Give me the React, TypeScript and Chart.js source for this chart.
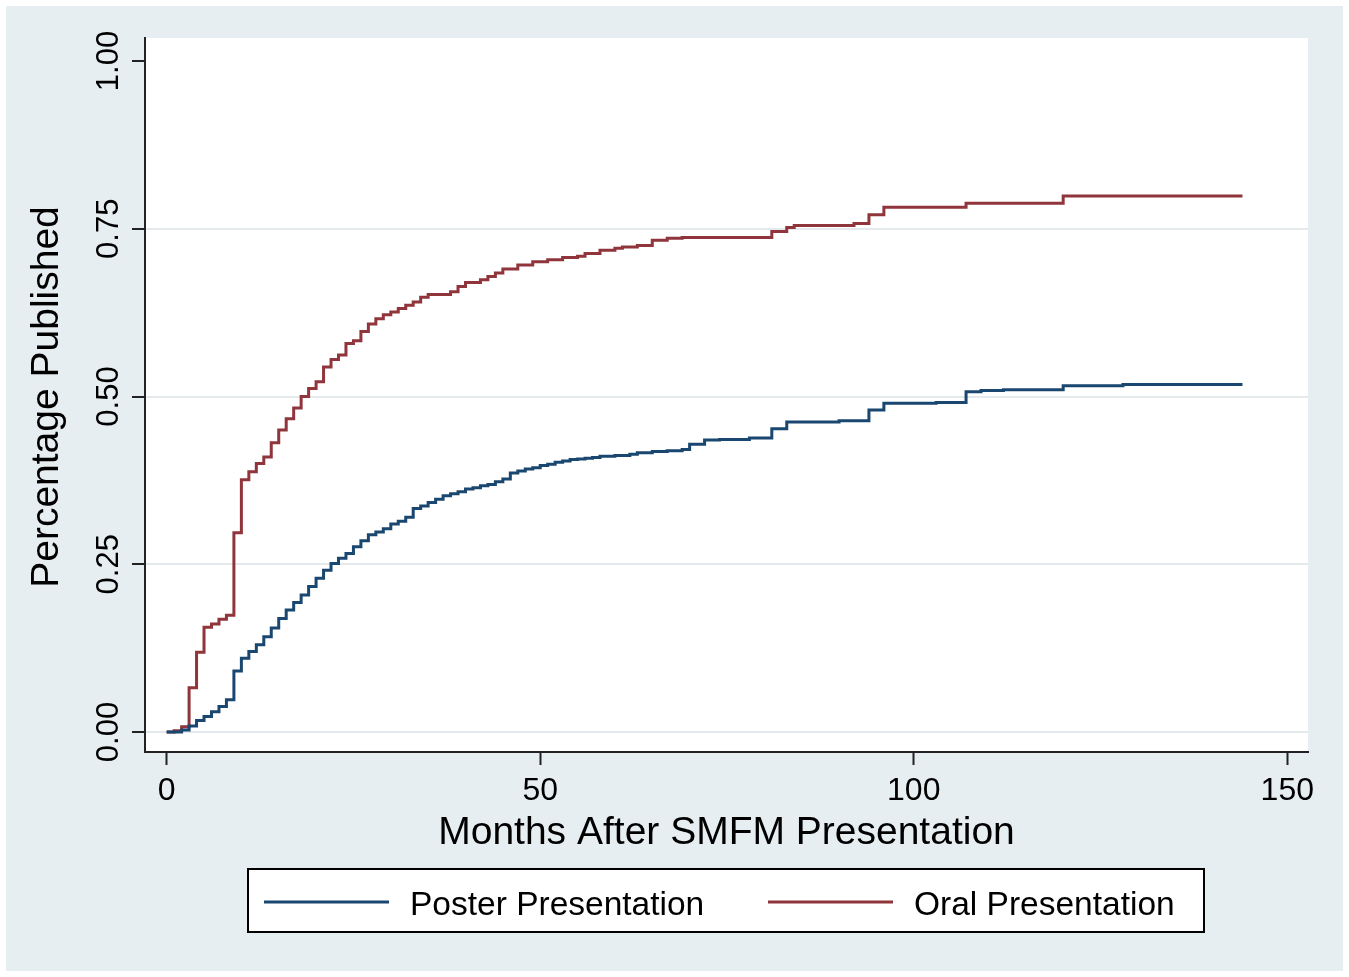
import React, { useEffect, useRef } from 'react';
import { Chart, registerables } from 'chart.js';

Chart.register(...registerables);

// ---- Data ----
const posterMonths = [0, 2, 3, 4, 5, 6, 7, 8, 9, 10, 11, 12, 13, 14, 15, 16, 17, 18, 19, 20, 21, 22, 23, 24, 25, 26, 27, 28, 29, 30, 31, 32, 33, 34, 35, 36, 37, 38, 39, 40, 41, 42, 43, 44, 45, 46, 47, 48, 49, 50, 51, 52, 53, 54, 55, 56, 57, 58, 60, 62, 63, 65, 67, 69, 70, 72, 74, 78, 81, 83, 90, 94, 96, 103, 107, 109, 112, 120, 128, 144];
const posterValues = [0, 0.003, 0.009, 0.017, 0.023, 0.030, 0.038, 0.048, 0.091, 0.110, 0.120, 0.130, 0.142, 0.155, 0.169, 0.182, 0.193, 0.204, 0.217, 0.229, 0.241, 0.251, 0.259, 0.266, 0.276, 0.285, 0.294, 0.298, 0.303, 0.310, 0.314, 0.320, 0.333, 0.337, 0.342, 0.347, 0.352, 0.355, 0.358, 0.362, 0.364, 0.367, 0.369, 0.373, 0.377, 0.386, 0.389, 0.392, 0.394, 0.397, 0.399, 0.402, 0.404, 0.406, 0.407, 0.408, 0.409, 0.411, 0.412, 0.414, 0.416, 0.418, 0.419, 0.421, 0.429, 0.435, 0.436, 0.438, 0.452, 0.462, 0.464, 0.480, 0.490, 0.491, 0.507, 0.509, 0.510, 0.516, 0.518, 0.518];

const oralMonths = [0, 1, 2, 3, 4, 5, 6, 7, 8, 9, 10, 11, 12, 13, 14, 15, 16, 17, 18, 19, 20, 21, 22, 23, 24, 25, 26, 27, 28, 29, 30, 31, 32, 33, 34, 35, 38, 39, 40, 42, 43, 44, 45, 47, 49, 51, 53, 55, 56, 58, 60, 61, 63, 65, 67, 69, 81, 83, 84, 92, 94, 96, 107, 120, 144];
const oralValues = [0, 0.002, 0.008, 0.066, 0.119, 0.156, 0.161, 0.168, 0.174, 0.297, 0.376, 0.388, 0.400, 0.410, 0.431, 0.450, 0.467, 0.483, 0.500, 0.512, 0.522, 0.544, 0.555, 0.562, 0.579, 0.583, 0.597, 0.608, 0.616, 0.622, 0.626, 0.631, 0.636, 0.641, 0.648, 0.652, 0.656, 0.664, 0.670, 0.674, 0.679, 0.684, 0.690, 0.696, 0.701, 0.704, 0.707, 0.709, 0.713, 0.718, 0.721, 0.723, 0.725, 0.733, 0.736, 0.737, 0.746, 0.752, 0.755, 0.758, 0.771, 0.782, 0.788, 0.799, 0.799];

const seriesLabels = ['Poster Presentation', 'Oral Presentation'];
const seriesColors = ['#1a476f', '#90353b'];
const xTicks = [0, 50, 100, 150];
const yTicks = [0, 0.25, 0.5, 0.75, 1];
const yTickLabels = ['0.00', '0.25', '0.50', '0.75', '1.00'];
const xTitle = 'Months After SMFM Presentation';
const yTitle = 'Percentage Published';

const FONT = '"Liberation Sans", Arial, Helvetica, sans-serif';
const W = 1349;
const H = 977;

const bgPlugin = {
  id: 'stataBg',
  beforeDraw(chart: any) {
    const { ctx, chartArea: a } = chart;
    ctx.save();
    ctx.fillStyle = '#ffffff';
    ctx.fillRect(0, 0, W, H);
    ctx.fillStyle = '#e7eef2';
    ctx.fillRect(6, 6, W - 12, H - 12);
    ctx.fillStyle = '#ffffff';
    ctx.fillRect(a.left, a.top, a.right - a.left, a.bottom - a.top);
    ctx.restore();
  },
};

const textPlugin = {
  id: 'stataText',
  afterDraw(chart: any) {
    const { ctx, chartArea: a } = chart;
    const ys = chart.scales.y;
    ctx.save();
    ctx.fillStyle = '#000000';
    ctx.textAlign = 'center';
    ctx.textBaseline = 'alphabetic';

    // rotated y tick labels
    ctx.font = `31px ${FONT}`;
    yTicks.forEach((v, i) => {
      const py = ys.getPixelForValue(v);
      ctx.save();
      ctx.translate(a.left - 27, py);
      ctx.rotate(-Math.PI / 2);
      ctx.fillText(yTickLabels[i], 0, 0);
      ctx.restore();
    });

    // y title
    ctx.font = `39px ${FONT}`;
    ctx.save();
    ctx.translate(58, (a.top + a.bottom) / 2 + 2);
    ctx.rotate(-Math.PI / 2);
    ctx.fillText(yTitle, 0, 0);
    ctx.restore();

    // x title
    ctx.fillText(xTitle, (a.left + a.right) / 2, 844);

    // legend
    const lx = 248, ly = 869, lw = 956, lh = 63;
    ctx.fillStyle = '#ffffff';
    ctx.fillRect(lx, ly, lw, lh);
    ctx.strokeStyle = '#000000';
    ctx.lineWidth = 2;
    ctx.strokeRect(lx, ly, lw, lh);
    const items = [
      { x0: 264, x1: 389, tx: 410 },
      { x0: 768, x1: 893, tx: 914 },
    ];
    ctx.font = `33.5px ${FONT}`;
    ctx.textAlign = 'left';
    chart.data.datasets.forEach((ds: any, i: number) => {
      const it = items[i];
      ctx.strokeStyle = ds.borderColor;
      ctx.lineWidth = 3;
      ctx.beginPath();
      ctx.moveTo(it.x0, 902);
      ctx.lineTo(it.x1, 902);
      ctx.stroke();
      ctx.fillStyle = '#000000';
      ctx.fillText(ds.label, it.tx, 915);
    });
    ctx.restore();
  },
};

export default function App() {
  const ref = useRef<HTMLCanvasElement | null>(null);

  useEffect(() => {
    if (!ref.current) return;
    const poster = posterMonths.map((m, i) => ({ x: m, y: posterValues[i] }));
    const oral = oralMonths.map((m, i) => ({ x: m, y: oralValues[i] }));
    const chart = new Chart(ref.current, {
      type: 'line',
      data: {
        datasets: [
          {
            label: seriesLabels[0],
            data: poster,
            borderColor: seriesColors[0],
            backgroundColor: seriesColors[0],
            borderWidth: 3,
            pointRadius: 0,
            stepped: 'before',
            fill: false,
          },
          {
            label: seriesLabels[1],
            data: oral,
            borderColor: seriesColors[1],
            backgroundColor: seriesColors[1],
            borderWidth: 3,
            pointRadius: 0,
            stepped: 'before',
            fill: false,
          },
        ],
      },
      options: {
        animation: false,
        responsive: false,
        devicePixelRatio: 1,
        layout: { padding: { left: 0, top: 38, right: 41, bottom: 0 } },
        plugins: {
          legend: { display: false },
          tooltip: { enabled: false },
          title: { display: false },
        },
        scales: {
          x: {
            type: 'linear',
            min: -2.9,
            max: 152.77,
            afterBuildTicks: (s: any) => {
              s.ticks = xTicks.map((v) => ({ value: v }));
            },
            afterFit: (s: any) => {
              s.height = 225;
            },
            ticks: {
              color: '#000000',
              font: { family: FONT, size: 32 },
              padding: 7,
              maxRotation: 0,
              callback: (v: any) => String(v),
            },
            grid: {
              drawOnChartArea: false,
              drawTicks: true,
              tickLength: 13,
              tickColor: '#222222',
              tickWidth: 2,
            },
            border: { display: true, color: '#222222', width: 2 },
          },
          y: {
            type: 'linear',
            min: -0.0298,
            max: 1.0343,
            afterBuildTicks: (s: any) => {
              s.ticks = yTicks.map((v) => ({ value: v }));
            },
            afterFit: (s: any) => {
              s.width = 145;
            },
            ticks: { display: false },
            grid: {
              drawOnChartArea: true,
              drawTicks: true,
              tickLength: 13,
              tickColor: '#222222',
              tickWidth: 2,
              lineWidth: 2,
              color: (c: any) => (c.tick && c.tick.value === 1 ? 'rgba(0,0,0,0)' : '#e4e9ec'),
            },
            border: { display: true, color: '#222222', width: 2 },
          },
        },
      },
      plugins: [bgPlugin, textPlugin],
    });
    return () => chart.destroy();
  }, []);

  return (
    <div style={{ position: 'absolute', left: 0, top: 0, width: W, height: H }}>
      <canvas ref={ref} width={W} height={H} style={{ display: 'block', width: W, height: H }} />
    </div>
  );
}
